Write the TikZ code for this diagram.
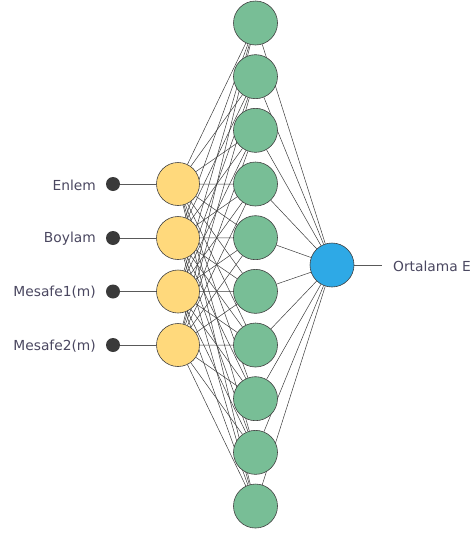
\documentclass[tikz,border=0pt]{standalone}
\usepackage{fontspec}
\setmainfont{DejaVu Sans}
\usetikzlibrary{backgrounds}
\definecolor{hidgreen}{HTML}{78BE96}
\definecolor{inyellow}{HTML}{FFD97C}
\definecolor{outblue}{HTML}{2EA9E6}
\definecolor{dotgray}{HTML}{3A3A3A}
\definecolor{edgegray}{HTML}{3C3C3C}
\definecolor{txtcol}{HTML}{4A4760}
\tikzset{
  neuron/.style={circle, draw=black!75, line width=0.6pt, minimum size=44pt, inner sep=0pt},
  hid/.style={neuron, fill=hidgreen},
  inp/.style={neuron, fill=inyellow, minimum size=43pt},
  outn/.style={neuron, fill=outblue},
  dotn/.style={circle, fill=dotgray, minimum size=14pt, inner sep=0pt},
  lbl/.style={anchor=east, text=txtcol, font=\fontsize{13.8}{16}\selectfont, inner sep=0pt},
  olbl/.style={anchor=west, text=txtcol, font=\fontsize{13.8}{16}\selectfont, inner sep=0pt},
  edge/.style={draw=edgegray, line width=0.5pt},
  feed/.style={draw=black!65, line width=0.8pt}
}
\begin{document}
\begin{tikzpicture}[x=1pt,y=-1pt]
\useasboundingbox (0,0) rectangle (472,533);
% hidden layer
\foreach \i in {1,...,10} {
  \node[hid] (h\i) at (255.5, {23+(\i-1)*53.67}) {};
}
% input layer
\node[inp] (i1) at (178,184) {};
\node[inp] (i2) at (178,238) {};
\node[inp] (i3) at (178,291.5) {};
\node[inp] (i4) at (178,345) {};
% dots
\node[dotn] (d1) at (113,184) {};
\node[dotn] (d2) at (113,238) {};
\node[dotn] (d3) at (113,291.5) {};
\node[dotn] (d4) at (113,345) {};
% labels
\node[lbl] (l1) at (96,185) {Enlem};
\node[lbl] (l2) at (96,239) {Boylam};
\node[lbl] (l3) at (96,292.5) {Mesafe1(m)};
\node[lbl] (l4) at (96,346) {Mesafe2(m)};
% output
\node[outn] (o) at (332,265) {};
\coordinate (oend) at (382,265);
\node[olbl] (ol) at (393,266) {Ortalama E};
\begin{pgfonlayer}{background}
\foreach \a in {1,...,4} {
  \foreach \b in {1,...,10} {
    \draw[edge] (i\a) -- (h\b);
  }
  \draw[feed] (d\a) -- (i\a);
}
\foreach \b in {1,...,10} {
  \draw[edge] (h\b) -- (o);
}
\draw[feed] (o) -- (oend);
\end{pgfonlayer}
\end{tikzpicture}
\end{document}
